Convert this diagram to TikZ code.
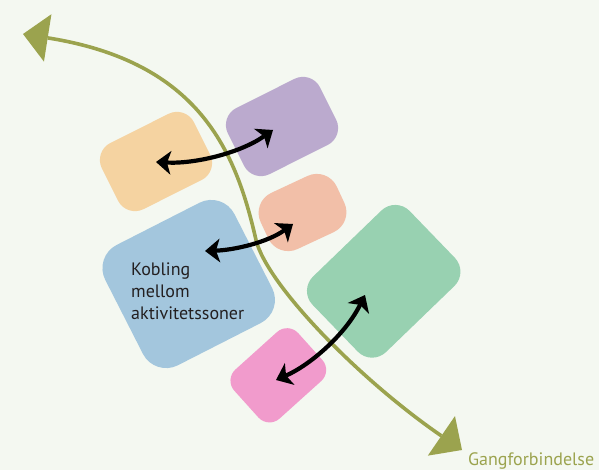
\documentclass[tikz,border=0pt]{standalone}
\usepackage{fontspec}
\newfontfamily\labelfont{PT Sans}
\usetikzlibrary{arrows.meta}
\definecolor{bg}{RGB}{244,248,241}
\definecolor{orangez}{RGB}{245,211,161}
\definecolor{purplez}{RGB}{187,170,206}
\definecolor{salmonz}{RGB}{242,191,168}
\definecolor{bluez}{RGB}{163,198,221}
\definecolor{greenz}{RGB}{152,209,177}
\definecolor{pinkz}{RGB}{241,155,204}
\definecolor{olivec}{RGB}{155,163,78}
\definecolor{darktext}{RGB}{35,31,32}
\begin{document}
\begin{tikzpicture}[x=1pt,y=-1pt,
  zone/.style={rectangle, rounded corners=#1, inner sep=0pt, draw=none},
  olive line/.style={draw=olivec, line width=3.6pt,
    {Triangle[length=25pt,width=48pt,fill=olivec,line width=0pt]}-{Triangle[length=25pt,width=48pt,fill=olivec,line width=0pt]}},
  link/.style={draw=black, line width=4.2pt,
    {Stealth[length=15pt,width=24pt,inset=4pt,line width=0pt]}-{Stealth[length=15pt,width=24pt,inset=4pt,line width=0pt]}},
  labeltext/.style={font=\labelfont\fontsize{18}{22}\selectfont, inner sep=0pt}]
\useasboundingbox (0,0) rectangle (599,470);
\fill[bg] (0,0) rectangle (599,470);
% zones
\node[zone=19pt, fill=orangez, minimum width=103pt, minimum height=74pt, rotate=26.6] (orange) at (156,161.5) {};
\node[zone=19pt, fill=purplez, minimum width=103pt, minimum height=74pt, rotate=26.6] (purple) at (282,126.5) {};
\node[zone=22pt, fill=salmonz, minimum width=84pt, minimum height=62pt, rotate=25] (salmon) at (302.5,212.5) {};
\node[zone=26pt, fill=bluez, minimum width=145pt, minimum height=135pt, rotate=27] (blue) at (188.7,284) {};
\node[zone=20pt, fill=greenz, minimum width=135pt, minimum height=105pt, rotate=44] (green) at (383.7,281.3) {};
\node[zone=15pt, fill=pinkz, minimum width=86pt, minimum height=66pt, rotate=42] (pink) at (278.3,375.3) {};
% walkway
\coordinate (gs) at (23,34);
\coordinate (gm) at (256,240);
\coordinate (ge) at (462,450);
\draw[olive line] (gs) .. controls (200,62) and (236,152) .. (gm) .. controls (267,285) and (360,380) .. (ge);
% links
\coordinate (a1s) at (156,162);
\coordinate (a1e) at (273,130);
\draw[link] (a1s) .. controls (195,164) and (240,153) .. (a1e);
\coordinate (a2s) at (205,251);
\coordinate (a2e) at (293,224);
\draw[link] (a2s) .. controls (235,250) and (268,242) .. (a2e);
\coordinate (a3s) at (276,380);
\coordinate (a3e) at (365,295);
\draw[link] (a3s) .. controls (310,365) and (345,335) .. (a3e);
% labels
\node[labeltext, text=darktext, align=left, anchor=base west] (kob) at (131,319.7) {Kobling\\mellom\\aktivitetssoner};
\node[labeltext, text=olivec, anchor=base west] (gang) at (468,465.5) {Gangforbindelse};
\end{tikzpicture}
\end{document}
